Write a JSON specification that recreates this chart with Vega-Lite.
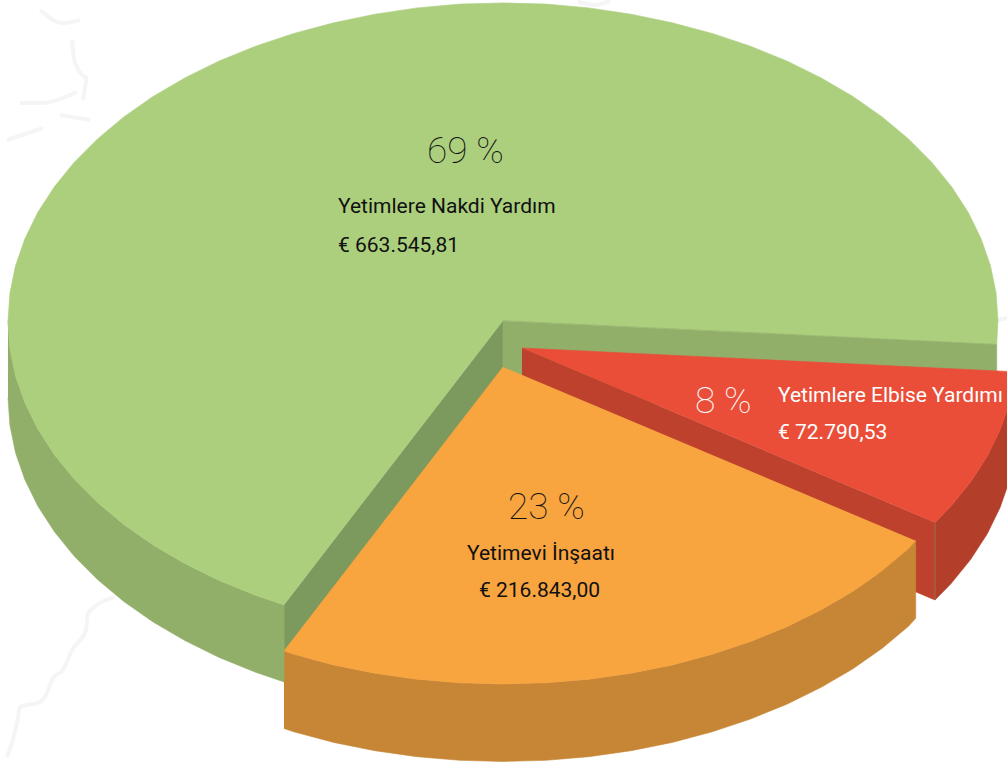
{"$schema":"https://vega.github.io/schema/vega-lite/v6.json","width":1007,"height":765,"padding":0,"autosize":"none","background":"white","config":{"view":{"stroke":null}},
"datasets":{
"faces":[
{"part":"greenBackWall","seq":1,"x":503,"y":320.7},{"part":"greenBackWall","seq":2,"x":996.7,"y":344.3},{"part":"greenBackWall","seq":3,"x":996.7,"y":421.3},{"part":"greenBackWall","seq":4,"x":503,"y":397.7},
{"part":"greenCutWall","seq":1,"x":503,"y":320.7},{"part":"greenCutWall","seq":2,"x":284,"y":604.9},{"part":"greenCutWall","seq":3,"x":284,"y":681.9},{"part":"greenCutWall","seq":4,"x":503,"y":397.7},
{"part":"greenRim","seq":1,"x":8,"y":320.7},{"part":"greenRim","seq":2,"x":9.9,"y":348.3},{"part":"greenRim","seq":3,"x":15.5,"y":375.7},{"part":"greenRim","seq":4,"x":24.9,"y":402.7},{"part":"greenRim","seq":5,"x":37.8,"y":429.1},{"part":"greenRim","seq":6,"x":54.4,"y":454.7},{"part":"greenRim","seq":7,"x":74.3,"y":479.2},{"part":"greenRim","seq":8,"x":97.5,"y":502.5},{"part":"greenRim","seq":9,"x":123.8,"y":524.5},{"part":"greenRim","seq":10,"x":153,"y":544.9},{"part":"greenRim","seq":11,"x":184.8,"y":563.5},{"part":"greenRim","seq":12,"x":219.1,"y":580.4},{"part":"greenRim","seq":13,"x":255.5,"y":595.2},{"part":"greenRim","seq":14,"x":284,"y":604.9},
{"part":"greenRim","seq":15,"x":284,"y":681.9},{"part":"greenRim","seq":16,"x":255.5,"y":672.2},{"part":"greenRim","seq":17,"x":219.1,"y":657.4},{"part":"greenRim","seq":18,"x":184.8,"y":640.5},{"part":"greenRim","seq":19,"x":153,"y":621.9},{"part":"greenRim","seq":20,"x":123.8,"y":601.5},{"part":"greenRim","seq":21,"x":97.5,"y":579.5},{"part":"greenRim","seq":22,"x":74.3,"y":556.2},{"part":"greenRim","seq":23,"x":54.4,"y":531.7},{"part":"greenRim","seq":24,"x":37.8,"y":506.1},{"part":"greenRim","seq":25,"x":24.9,"y":479.7},{"part":"greenRim","seq":26,"x":15.5,"y":452.7},{"part":"greenRim","seq":27,"x":9.9,"y":425.3},{"part":"greenRim","seq":28,"x":8,"y":397.7},
{"part":"greenTop","seq":1,"x":503,"y":320.7},{"part":"greenTop","seq":2,"x":996.7,"y":344.3},{"part":"greenTop","seq":3,"x":998,"y":320.7},{"part":"greenTop","seq":4,"x":996.1,"y":293.1},{"part":"greenTop","seq":5,"x":990.5,"y":265.7},{"part":"greenTop","seq":6,"x":981.1,"y":238.7},{"part":"greenTop","seq":7,"x":968.2,"y":212.3},{"part":"greenTop","seq":8,"x":951.6,"y":186.7},{"part":"greenTop","seq":9,"x":931.7,"y":162.2},{"part":"greenTop","seq":10,"x":908.5,"y":138.9},{"part":"greenTop","seq":11,"x":882.2,"y":116.9},{"part":"greenTop","seq":12,"x":853,"y":96.5},{"part":"greenTop","seq":13,"x":821.2,"y":77.9},{"part":"greenTop","seq":14,"x":786.9,"y":61},{"part":"greenTop","seq":15,"x":750.5,"y":46.2},{"part":"greenTop","seq":16,"x":712.2,"y":33.4},{"part":"greenTop","seq":17,"x":672.3,"y":22.8},{"part":"greenTop","seq":18,"x":631.1,"y":14.2},{"part":"greenTop","seq":19,"x":588.9,"y":7.9},{"part":"greenTop","seq":20,"x":546.2,"y":4.1},{"part":"greenTop","seq":21,"x":503,"y":2.9},{"part":"greenTop","seq":22,"x":459.8,"y":4.1},{"part":"greenTop","seq":23,"x":417.1,"y":7.9},{"part":"greenTop","seq":24,"x":374.9,"y":14.2},{"part":"greenTop","seq":25,"x":333.7,"y":22.8},{"part":"greenTop","seq":26,"x":293.8,"y":33.4},{"part":"greenTop","seq":27,"x":255.5,"y":46.2},{"part":"greenTop","seq":28,"x":219.1,"y":61},{"part":"greenTop","seq":29,"x":184.8,"y":77.9},{"part":"greenTop","seq":30,"x":153,"y":96.5},{"part":"greenTop","seq":31,"x":123.8,"y":116.9},{"part":"greenTop","seq":32,"x":97.5,"y":138.9},{"part":"greenTop","seq":33,"x":74.3,"y":162.2},{"part":"greenTop","seq":34,"x":54.4,"y":186.7},{"part":"greenTop","seq":35,"x":37.8,"y":212.3},{"part":"greenTop","seq":36,"x":24.9,"y":238.7},{"part":"greenTop","seq":37,"x":15.5,"y":265.7},{"part":"greenTop","seq":38,"x":9.9,"y":293.1},{"part":"greenTop","seq":39,"x":8,"y":320.7},{"part":"greenTop","seq":40,"x":9.9,"y":348.3},{"part":"greenTop","seq":41,"x":15.5,"y":375.7},{"part":"greenTop","seq":42,"x":24.9,"y":402.7},{"part":"greenTop","seq":43,"x":37.8,"y":429.1},{"part":"greenTop","seq":44,"x":54.4,"y":454.7},{"part":"greenTop","seq":45,"x":74.3,"y":479.2},{"part":"greenTop","seq":46,"x":97.5,"y":502.5},{"part":"greenTop","seq":47,"x":123.8,"y":524.5},{"part":"greenTop","seq":48,"x":153,"y":544.9},{"part":"greenTop","seq":49,"x":184.8,"y":563.5},{"part":"greenTop","seq":50,"x":219.1,"y":580.4},{"part":"greenTop","seq":51,"x":255.5,"y":595.2},{"part":"greenTop","seq":52,"x":284,"y":604.9},
{"part":"redCutWall","seq":1,"x":522,"y":348},{"part":"redCutWall","seq":2,"x":935,"y":522.5},{"part":"redCutWall","seq":3,"x":935,"y":600},{"part":"redCutWall","seq":4,"x":522,"y":425.5},
{"part":"redRim","seq":1,"x":935,"y":522.5},{"part":"redRim","seq":2,"x":950.7,"y":506.5},{"part":"redRim","seq":3,"x":970.6,"y":482},{"part":"redRim","seq":4,"x":987.2,"y":456.4},{"part":"redRim","seq":5,"x":1000.1,"y":430},{"part":"redRim","seq":6,"x":1009.5,"y":403},{"part":"redRim","seq":7,"x":1015.1,"y":375.6},{"part":"redRim","seq":8,"x":1015.1,"y":453.1},{"part":"redRim","seq":9,"x":1009.5,"y":480.5},{"part":"redRim","seq":10,"x":1000.1,"y":507.5},{"part":"redRim","seq":11,"x":987.2,"y":533.9},{"part":"redRim","seq":12,"x":970.6,"y":559.5},{"part":"redRim","seq":13,"x":950.7,"y":584},{"part":"redRim","seq":14,"x":935,"y":600},
{"part":"redTop","seq":1,"x":522,"y":348},{"part":"redTop","seq":2,"x":1015.6,"y":371.8},{"part":"redTop","seq":3,"x":1015.1,"y":375.6},{"part":"redTop","seq":4,"x":1009.5,"y":403},{"part":"redTop","seq":5,"x":1000.1,"y":430},{"part":"redTop","seq":6,"x":987.2,"y":456.4},{"part":"redTop","seq":7,"x":970.6,"y":482},{"part":"redTop","seq":8,"x":950.7,"y":506.5},{"part":"redTop","seq":9,"x":935,"y":522.5},
{"part":"orangeRim","seq":1,"x":284,"y":651},{"part":"orangeRim","seq":2,"x":293.8,"y":654.3},{"part":"orangeRim","seq":3,"x":333.7,"y":664.9},{"part":"orangeRim","seq":4,"x":374.9,"y":673.2},{"part":"orangeRim","seq":5,"x":417.1,"y":679.2},{"part":"orangeRim","seq":6,"x":459.8,"y":682.8},{"part":"orangeRim","seq":7,"x":503,"y":684},{"part":"orangeRim","seq":8,"x":546.2,"y":682.8},{"part":"orangeRim","seq":9,"x":588.9,"y":679.2},{"part":"orangeRim","seq":10,"x":631.1,"y":673.2},{"part":"orangeRim","seq":11,"x":672.3,"y":664.9},{"part":"orangeRim","seq":12,"x":712.2,"y":654.3},{"part":"orangeRim","seq":13,"x":750.5,"y":641.5},{"part":"orangeRim","seq":14,"x":786.9,"y":626.7},{"part":"orangeRim","seq":15,"x":821.2,"y":609.8},{"part":"orangeRim","seq":16,"x":853,"y":591.2},{"part":"orangeRim","seq":17,"x":882.2,"y":570.8},{"part":"orangeRim","seq":18,"x":908.5,"y":548.8},{"part":"orangeRim","seq":19,"x":915.7,"y":540.7},
{"part":"orangeRim","seq":20,"x":915.7,"y":618.2},{"part":"orangeRim","seq":21,"x":908.5,"y":626.3},{"part":"orangeRim","seq":22,"x":882.2,"y":648.3},{"part":"orangeRim","seq":23,"x":853,"y":668.7},{"part":"orangeRim","seq":24,"x":821.2,"y":687.3},{"part":"orangeRim","seq":25,"x":786.9,"y":704.2},{"part":"orangeRim","seq":26,"x":750.5,"y":719},{"part":"orangeRim","seq":27,"x":712.2,"y":731.8},{"part":"orangeRim","seq":28,"x":672.3,"y":742.4},{"part":"orangeRim","seq":29,"x":631.1,"y":750.7},{"part":"orangeRim","seq":30,"x":588.9,"y":756.7},{"part":"orangeRim","seq":31,"x":546.2,"y":760.3},{"part":"orangeRim","seq":32,"x":503,"y":761.5},{"part":"orangeRim","seq":33,"x":459.8,"y":760.3},{"part":"orangeRim","seq":34,"x":417.1,"y":756.7},{"part":"orangeRim","seq":35,"x":374.9,"y":750.7},{"part":"orangeRim","seq":36,"x":333.7,"y":742.4},{"part":"orangeRim","seq":37,"x":293.8,"y":731.8},{"part":"orangeRim","seq":38,"x":284,"y":728.5},
{"part":"orangeTop","seq":1,"x":503,"y":367},{"part":"orangeTop","seq":2,"x":284,"y":651},{"part":"orangeTop","seq":3,"x":293.8,"y":654.3},{"part":"orangeTop","seq":4,"x":333.7,"y":664.9},{"part":"orangeTop","seq":5,"x":374.9,"y":673.2},{"part":"orangeTop","seq":6,"x":417.1,"y":679.2},{"part":"orangeTop","seq":7,"x":459.8,"y":682.8},{"part":"orangeTop","seq":8,"x":503,"y":684},{"part":"orangeTop","seq":9,"x":546.2,"y":682.8},{"part":"orangeTop","seq":10,"x":588.9,"y":679.2},{"part":"orangeTop","seq":11,"x":631.1,"y":673.2},{"part":"orangeTop","seq":12,"x":672.3,"y":664.9},{"part":"orangeTop","seq":13,"x":712.2,"y":654.3},{"part":"orangeTop","seq":14,"x":750.5,"y":641.5},{"part":"orangeTop","seq":15,"x":786.9,"y":626.7},{"part":"orangeTop","seq":16,"x":821.2,"y":609.8},{"part":"orangeTop","seq":17,"x":853,"y":591.2},{"part":"orangeTop","seq":18,"x":882.2,"y":570.8},{"part":"orangeTop","seq":19,"x":908.5,"y":548.8},{"part":"orangeTop","seq":20,"x":915.7,"y":540.7}
],
"shadows":[
{"mark":"a","seq":1,"x":115,"y":597},{"mark":"a","seq":2,"x":88,"y":613},{"mark":"a","seq":3,"x":86,"y":630},{"mark":"a","seq":4,"x":72,"y":650},{"mark":"a","seq":5,"x":63,"y":670},{"mark":"a","seq":6,"x":53,"y":678},{"mark":"a","seq":7,"x":47,"y":693},{"mark":"a","seq":8,"x":40,"y":702},{"mark":"a","seq":9,"x":20,"y":707},{"mark":"a","seq":10,"x":17,"y":723},{"mark":"a","seq":11,"x":12,"y":743},{"mark":"a","seq":12,"x":7,"y":757},
{"mark":"b","seq":1,"x":40,"y":10},{"mark":"b","seq":2,"x":63,"y":23},{"mark":"b","seq":3,"x":80,"y":20},
{"mark":"c","seq":1,"x":72,"y":40},{"mark":"c","seq":2,"x":75,"y":63},{"mark":"c","seq":3,"x":88,"y":78},{"mark":"c","seq":4,"x":83,"y":100},
{"mark":"d","seq":1,"x":20,"y":103},{"mark":"d","seq":2,"x":40,"y":103},{"mark":"d","seq":3,"x":77,"y":92},
{"mark":"e","seq":1,"x":60,"y":115},{"mark":"e","seq":2,"x":90,"y":120},
{"mark":"f","seq":1,"x":7,"y":140},{"mark":"f","seq":2,"x":43,"y":128},
{"mark":"g","seq":1,"x":998,"y":320},{"mark":"g","seq":2,"x":1007,"y":318},
{"mark":"h","seq":1,"x":578,"y":2},{"mark":"h","seq":2,"x":595,"y":5},{"mark":"h","seq":3,"x":610,"y":1}
],
"seams":[
{"line":"a","seq":1,"x":996.7,"y":344.3,"tone":"green"},{"line":"a","seq":2,"x":503,"y":320.7,"tone":"green"},{"line":"a","seq":3,"x":503,"y":367,"tone":"green"},
{"line":"b","seq":1,"x":284,"y":604.9,"tone":"green"},{"line":"b","seq":2,"x":284,"y":681.9,"tone":"green"},
{"line":"c","seq":1,"x":935,"y":522.5,"tone":"red"},{"line":"c","seq":2,"x":935,"y":600,"tone":"red"}
],
"percents":[
{"label":"69 %","x":427,"y":163,"tone":"dark"},{"label":"8 %","x":695,"y":413,"tone":"light"},{"label":"23 %","x":508,"y":519,"tone":"dark"}
],
"labels":[
{"label":"Yetimlere Nakdi Yardım","x":338,"y":213,"tone":"dark"},{"label":"€ 663.545,81","x":338,"y":252,"tone":"dark"},
{"label":"Yetimlere Elbise Yardımı","x":778,"y":402,"tone":"light"},{"label":"€ 72.790,53","x":778,"y":439,"tone":"light"},
{"label":"Yetimevi İnşaatı","x":467,"y":560,"tone":"dark"},{"label":"€ 216.843,00","x":479,"y":597,"tone":"dark"}
]
},
"encoding":{
"x":{"field":"x","type":"quantitative","scale":{"domain":[0,1007],"nice":false,"zero":false},"axis":null},
"y":{"field":"y","type":"quantitative","scale":{"domain":[765,0],"nice":false,"zero":false},"axis":null}
},
"layer":[
{"data":{"name":"shadows"},"mark":{"type":"line","stroke":"#f5f5f5","strokeWidth":4,"interpolate":"monotone","clip":true},"encoding":{"detail":{"field":"mark"},"order":{"field":"seq"}}},
{"data":{"name":"faces"},"mark":{"type":"line","strokeWidth":0.6,"clip":true},"encoding":{"order":{"field":"seq"},
"fill":{"field":"part","type":"nominal","legend":null,"scale":{"domain":["greenBackWall","greenCutWall","greenRim","greenTop","redCutWall","redRim","redTop","orangeRim","orangeTop"],"range":["#92af6a","#7c9a5e","#92af6a","#accf7d","#bd412c","#b33e29","#ea4e39","#c68635","#f8a43f"]}},
"stroke":{"field":"part","type":"nominal","legend":null,"scale":{"domain":["greenBackWall","greenCutWall","greenRim","greenTop","redCutWall","redRim","redTop","orangeRim","orangeTop"],"range":["#92af6a","#7c9a5e","#92af6a","#accf7d","#bd412c","#b33e29","#ea4e39","#c68635","#f8a43f"]}}}},
{"data":{"name":"seams"},"mark":{"type":"line","strokeWidth":1,"opacity":0.6},"encoding":{"detail":{"field":"line"},"order":{"field":"seq"},"stroke":{"field":"tone","type":"nominal","legend":null,"scale":{"domain":["green","red"],"range":["#d3e4bd","#e08a78"]}}}},
{"data":{"name":"percents"},"mark":{"type":"text","font":"Roboto","fontSize":37,"fontWeight":100,"align":"left","baseline":"alphabetic"},"encoding":{"text":{"field":"label"},"color":{"field":"tone","type":"nominal","legend":null,"scale":{"domain":["dark","light"],"range":["#111111","#ffffff"]}}}},
{"data":{"name":"labels"},"mark":{"type":"text","font":"Roboto","fontSize":21,"align":"left","baseline":"alphabetic"},"encoding":{"text":{"field":"label"},"color":{"field":"tone","type":"nominal","legend":null,"scale":{"domain":["dark","light"],"range":["#111111","#ffffff"]}}}}
]}
